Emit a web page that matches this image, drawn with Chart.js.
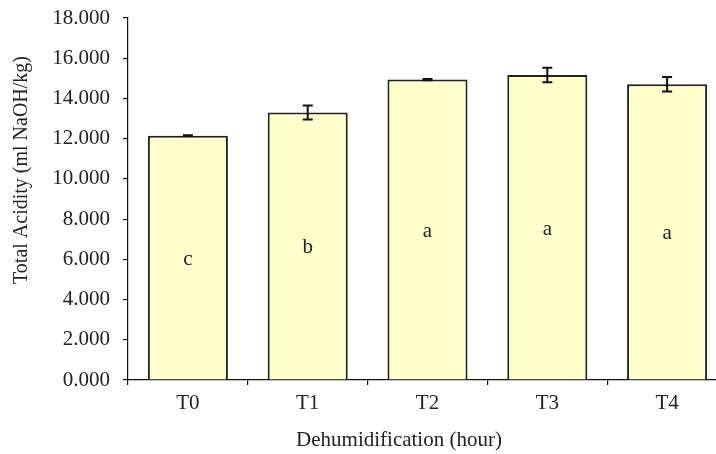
<!DOCTYPE html>
<html>
<head>
<meta charset="utf-8">
<script src="https://cdn.jsdelivr.net/npm/chart.js@4/dist/chart.umd.min.js"></script>
<style>
  html, body { margin: 0; padding: 0; background: #fff; overflow: hidden; }
  #wrap { width: 740px; height: 454px; }
</style>
</head>
<body>
<div id="wrap"><canvas id="chart" width="740" height="454"></canvas></div>
<script>
'use strict';

// data
let categories = ['T0', 'T1', 'T2', 'T3', 'T4'];
let acidity = [12.15, 13.30, 14.94, 15.17, 14.71];
let errors = [0.02, 0.35, 0.03, 0.36, 0.36];
let groups = ['c', 'b', 'a', 'a', 'a'];

const serif = '"Liberation Serif", "Times New Roman", serif';
const ink = '#222';
const fontSize = 21;

// error bars and significance letters on each bar
const barExtras = {
    id: 'barExtras',
    afterDatasetsDraw(chart) {
        let ctx = chart.ctx;
        let yScale = chart.scales.y;
        let meta = chart.getDatasetMeta(0);
        ctx.save();
        for (let i = 0; i < meta.data.length; i++) {
            let bar = meta.data[i];
            let top = yScale.getPixelForValue(acidity[i] + errors[i]);
            let bottom = yScale.getPixelForValue(acidity[i] - errors[i]);
            ctx.strokeStyle = '#111';
            ctx.lineWidth = 2;
            ctx.beginPath();
            ctx.moveTo(bar.x, top);
            ctx.lineTo(bar.x, bottom);
            ctx.moveTo(bar.x - 5, top);
            ctx.lineTo(bar.x + 5, top);
            ctx.moveTo(bar.x - 5, bottom);
            ctx.lineTo(bar.x + 5, bottom);
            ctx.stroke();

            // letter sits around the middle of the bar
            ctx.fillStyle = ink;
            ctx.font = fontSize + 'px ' + serif;
            ctx.textAlign = 'center';
            ctx.textBaseline = 'middle';
            ctx.fillText(groups[i], bar.x, (bar.y + bar.base) / 2 + 2);
        }
        ctx.restore();
    }
};

// axis titles, placed by hand like the original
const axisTitles = {
    id: 'axisTitles',
    afterDraw(chart) {
        let ctx = chart.ctx;
        ctx.save();
        ctx.fillStyle = ink;
        ctx.font = fontSize + 'px ' + serif;
        ctx.textAlign = 'center';
        ctx.textBaseline = 'middle';
        ctx.fillText('Dehumidification (hour)', 399, 440);
        ctx.font = '20px ' + serif;
        ctx.translate(22, 170);
        ctx.rotate(-Math.PI / 2);
        ctx.fillText('Total Acidity (ml NaOH/kg)', 0, 0);
        ctx.restore();
    }
};

let ctx = document.getElementById('chart').getContext('2d');
let chart = new Chart(ctx, {
    type: 'bar',
    data: {
        labels: categories,
        datasets: [{
            label: 'Total Acidity',
            data: acidity,
            backgroundColor: '#FFFFCC',
            borderColor: '#222',
            borderWidth: 2,
            barPercentage: 0.668,
            categoryPercentage: 1
        }]
    },
    options: {
        responsive: false,
        animation: false,
        layout: { padding: { top: 18, right: 13, left: 0, bottom: 0 } },
        plugins: {
            legend: { display: false },
            tooltip: { enabled: false }
        },
        scales: {
            x: {
                afterFit(scale) {
                    scale.height = 74;
                    scale.paddingLeft = 0;
                    scale.paddingRight = 0;
                },
                border: { display: true, color: '#111', width: 1.2 },
                grid: {
                    offset: true,
                    drawOnChartArea: false,
                    drawTicks: true,
                    tickLength: 5,
                    color: '#111',
                    lineWidth: 1.2
                },
                ticks: {
                    color: ink,
                    padding: 6,
                    font: { family: serif, size: fontSize }
                }
            },
            y: {
                min: 0,
                max: 18,
                afterFit(scale) {
                    scale.width = 128;
                    scale.paddingTop = 0;
                    scale.paddingBottom = 0;
                },
                border: { display: true, color: '#111', width: 1.2 },
                grid: {
                    drawOnChartArea: false,
                    drawTicks: true,
                    tickLength: 5,
                    color: '#111',
                    lineWidth: 1.2
                },
                ticks: {
                    stepSize: 2,
                    color: ink,
                    padding: 13,
                    font: { family: serif, size: fontSize },
                    callback: function(value) { return value.toFixed(3); }
                }
            }
        }
    },
    plugins: [barExtras, axisTitles]
});
</script>
</body>
</html>
